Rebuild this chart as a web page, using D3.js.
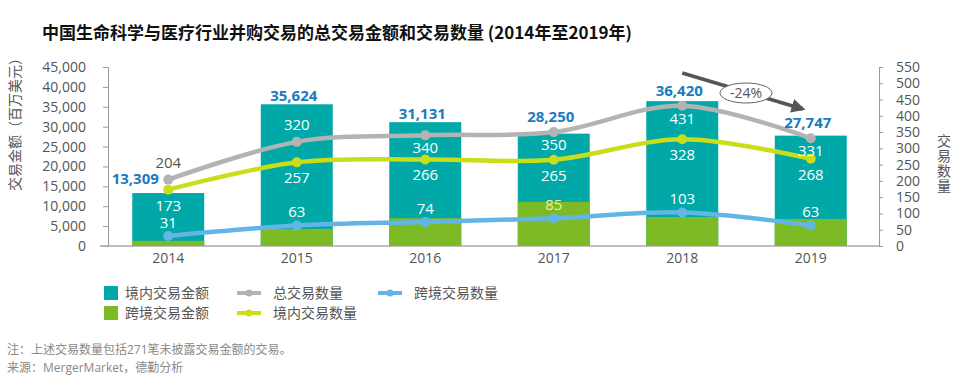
<!DOCTYPE html>
<html>
<head>
<meta charset="utf-8">
<script src="https://cdn.jsdelivr.net/npm/d3@7"></script>
<style>
  body { margin: 0; background: #fff; }
  text { font-family: "Open Sans", "Noto Sans CJK SC", sans-serif; }
</style>
</head>
<body>
<script>
/* ---------------------------------- data ---------------------------------- */
const years = ["2014", "2015", "2016", "2017", "2018", "2019"];
const totalAmount = [13309, 35624, 31131, 28250, 36420, 27747];
const crossAmount = [1300, 4300, 7000, 11100, 7300, 6800];
const totalCount = [204, 320, 340, 350, 431, 331];
const domesticCount = [173, 257, 266, 265, 328, 268];
const crossCount = [31, 63, 74, 85, 103, 63];
const leftTicks = d3.range(0, 45001, 5000);
const rightTicks = d3.range(0, 551, 50);

/* ------------------------------- svg & scales ------------------------------ */
const width = 960, height = 386;
const svg = d3.select("body").append("svg")
    .attr("width", width)
    .attr("height", height);

const x = d3.scaleBand().domain(years).range([104, 875]).paddingInner(0.44).paddingOuter(0.22);
const yL = d3.scaleLinear().domain([0, 45000]).range([246, 67]);
const yR = d3.scaleLinear().domain([0, 550]).range([246, 67]);
const cx = d => x(d) + x.bandwidth() / 2;

const teal = "#00A8A8", green = "#7CBB26", gray = "#B3B3B3", lime = "#C9DD18", blue = "#62B5E5";

/* ---------------------------------- title --------------------------------- */
svg.append("text").attr("x", 42).attr("y", 39)
    .attr("font-size", 17).attr("font-weight", "bold").attr("fill", "#111")
    .style("font-family", "'Noto Sans CJK SC', sans-serif")
    .text("中国生命科学与医疗行业并购交易的总交易金额和交易数量 (2014年至2019年)");

/* ---------------------------------- axes ---------------------------------- */
const axL = svg.append("g").attr("transform", "translate(108,0)")
    .call(d3.axisLeft(yL).tickValues(leftTicks).tickSize(5).tickPadding(17).tickFormat(d3.format(",")));
const axR = svg.append("g").attr("transform", "translate(879,0)")
    .call(d3.axisRight(yR).tickValues(rightTicks).tickSize(4).tickPadding(13));
[axL, axR].forEach(a => {
    a.selectAll("path, line").attr("stroke", "#999");
    a.selectAll("text").attr("font-size", 14).attr("fill", "#555")
        .style("font-family", "'Open Sans', sans-serif");
});

svg.append("line").attr("x1", 100).attr("x2", 879).attr("y1", 246).attr("y2", 246)
    .attr("stroke", "#aaa").attr("stroke-width", 1.5);

svg.append("g").selectAll("text").data(years).enter().append("text")
    .attr("x", d => cx(d)).attr("y", 263)
    .attr("text-anchor", "middle").attr("font-size", 14).attr("fill", "#555")
    .text(d => d);

// axis titles
svg.append("text")
    .attr("transform", "translate(20,121) rotate(-90)")
    .attr("text-anchor", "middle").attr("font-size", 14).attr("fill", "#555")
    .style("font-family", "'Noto Sans CJK SC', sans-serif")
    .text("交易金额（百万美元）");
const rt = svg.append("text")
    .attr("text-anchor", "middle").attr("font-size", 14).attr("fill", "#555")
    .style("font-family", "'Noto Sans CJK SC', sans-serif");
rt.selectAll("tspan").data("交易数量".split("")).enter().append("tspan")
    .attr("x", 944).attr("y", (d, i) => 146 + i * 15)
    .text(d => d);

/* ---------------------------------- bars ---------------------------------- */
const bars = svg.append("g");
bars.selectAll(".dom").data(years).enter().append("rect")
    .attr("x", d => x(d)).attr("width", x.bandwidth())
    .attr("y", (d, i) => yL(totalAmount[i]))
    .attr("height", (d, i) => yL(0) - yL(totalAmount[i]))
    .attr("fill", teal);
bars.selectAll(".cross").data(years).enter().append("rect")
    .attr("x", d => x(d)).attr("width", x.bandwidth())
    .attr("y", (d, i) => yL(crossAmount[i]))
    .attr("height", (d, i) => yL(0) - yL(crossAmount[i]))
    .attr("fill", green);

/* ---------------------------------- lines --------------------------------- */
const line = d3.line().x((d, i) => cx(years[i])).y(d => yR(d)).curve(d3.curveCardinal.tension(0));
const series = [
    { vals: totalCount, color: gray },
    { vals: domesticCount, color: lime },
    { vals: crossCount, color: blue }
];
series.forEach(s => {
    svg.append("path").attr("d", line(s.vals))
        .attr("fill", "none").attr("stroke", s.color).attr("stroke-width", 4.5);
    svg.append("g").selectAll("circle").data(s.vals).enter().append("circle")
        .attr("cx", (d, i) => cx(years[i])).attr("cy", d => yR(d)).attr("r", 5)
        .attr("fill", s.color);
});

/* --------------------------------- labels --------------------------------- */
const lab = svg.append("g").attr("font-size", 15).attr("text-anchor", "middle");

// total amount above bars
lab.selectAll(".amt").data(years).enter().append("text")
    .attr("x", (d, i) => i == 0 ? cx(d) - 33 : cx(d) - 3)
    .attr("y", (d, i) => i == 0 ? yR(totalCount[0]) + 4
        : Math.min(yL(totalAmount[i]) - 8, yR(totalCount[i]) - 15) + 5)
    .attr("font-weight", "bold").attr("font-size", 15).attr("fill", "#1A7BC0")
    .text((d, i) => d3.format(",")(totalAmount[i]));

// total count labels
lab.selectAll(".tc").data(totalCount).enter().append("text")
    .attr("x", (d, i) => cx(years[i]))
    .attr("y", (d, i) => i < 2 ? yR(d) - 17 + 5 : yR(d) + 13 + 5)
    .attr("fill", (d, i) => i == 0 ? "#555" : "#fff")
    .text(d => d);

// domestic count labels
lab.selectAll(".dc").data(domesticCount).enter().append("text")
    .attr("x", (d, i) => cx(years[i]))
    .attr("y", d => yR(d) + 16 + 5)
    .attr("fill", "#fff")
    .text(d => d);

// cross-border count labels
lab.selectAll(".cc").data(crossCount).enter().append("text")
    .attr("x", (d, i) => cx(years[i]))
    .attr("y", d => yR(d) - 13 + 5)
    .attr("fill", (d, i) => yR(d) - 13 > yL(crossAmount[i]) ? "#E8F2A0" : "#fff")
    .text(d => d);

/* -------------------------------- annotation ------------------------------- */
svg.append("defs").append("marker")
    .attr("id", "arr").attr("viewBox", "0 0 10 10").attr("refX", 8).attr("refY", 5)
    .attr("markerWidth", 4).attr("markerHeight", 4).attr("orient", "auto")
    .append("path").attr("d", "M0,0L10,5L0,10z").attr("fill", "#555");
svg.append("line")
    .attr("x1", cx("2018")).attr("y1", 73).attr("x2", cx("2019") - 8).attr("y2", 109)
    .attr("stroke", "#555").attr("stroke-width", 3.5).attr("marker-end", "url(#arr)");
svg.append("ellipse").attr("cx", 746).attr("cy", 93).attr("rx", 26).attr("ry", 10)
    .attr("fill", "#fff").attr("stroke", "#666").attr("stroke-width", 1);
svg.append("text").attr("x", 746).attr("y", 98).attr("text-anchor", "middle")
    .attr("font-size", 14).attr("fill", "#555").text("-24%");

/* ---------------------------------- legend --------------------------------- */
const leg = svg.append("g").attr("font-size", 14).attr("fill", "#555")
    .style("font-family", "'Noto Sans CJK SC', sans-serif");
const legItems = [
    { label: "境内交易金额", color: teal, type: "box", x: 104, y: 293 },
    { label: "跨境交易金额", color: green, type: "box", x: 104, y: 313 },
    { label: "总交易数量", color: gray, type: "line", x: 237, y: 293 },
    { label: "境内交易数量", color: lime, type: "line", x: 237, y: 313 },
    { label: "跨境交易数量", color: blue, type: "line", x: 378, y: 293 }
];
legItems.forEach(it => {
    if (it.type == "box") {
        leg.append("rect").attr("x", it.x).attr("y", it.y - 7).attr("width", 14).attr("height", 14)
            .attr("fill", it.color);
        leg.append("text").attr("x", it.x + 21).attr("y", it.y + 5).text(it.label);
    } else {
        leg.append("line").attr("x1", it.x).attr("x2", it.x + 24).attr("y1", it.y).attr("y2", it.y)
            .attr("stroke", it.color).attr("stroke-width", 4);
        leg.append("circle").attr("cx", it.x + 12).attr("cy", it.y).attr("r", 3.5).attr("fill", it.color);
        leg.append("text").attr("x", it.x + 36).attr("y", it.y + 5).text(it.label);
    }
});

/* --------------------------------- footnote -------------------------------- */
const foot = svg.append("g").attr("font-size", 12).attr("fill", "#888")
    .style("font-family", "'Noto Sans CJK SC', sans-serif");
foot.append("text").attr("x", 7).attr("y", 354).text("注：上述交易数量包括271笔未披露交易金额的交易。");
foot.append("text").attr("x", 7).attr("y", 372).text("来源：MergerMarket，德勤分析");
</script>
</body>
</html>
